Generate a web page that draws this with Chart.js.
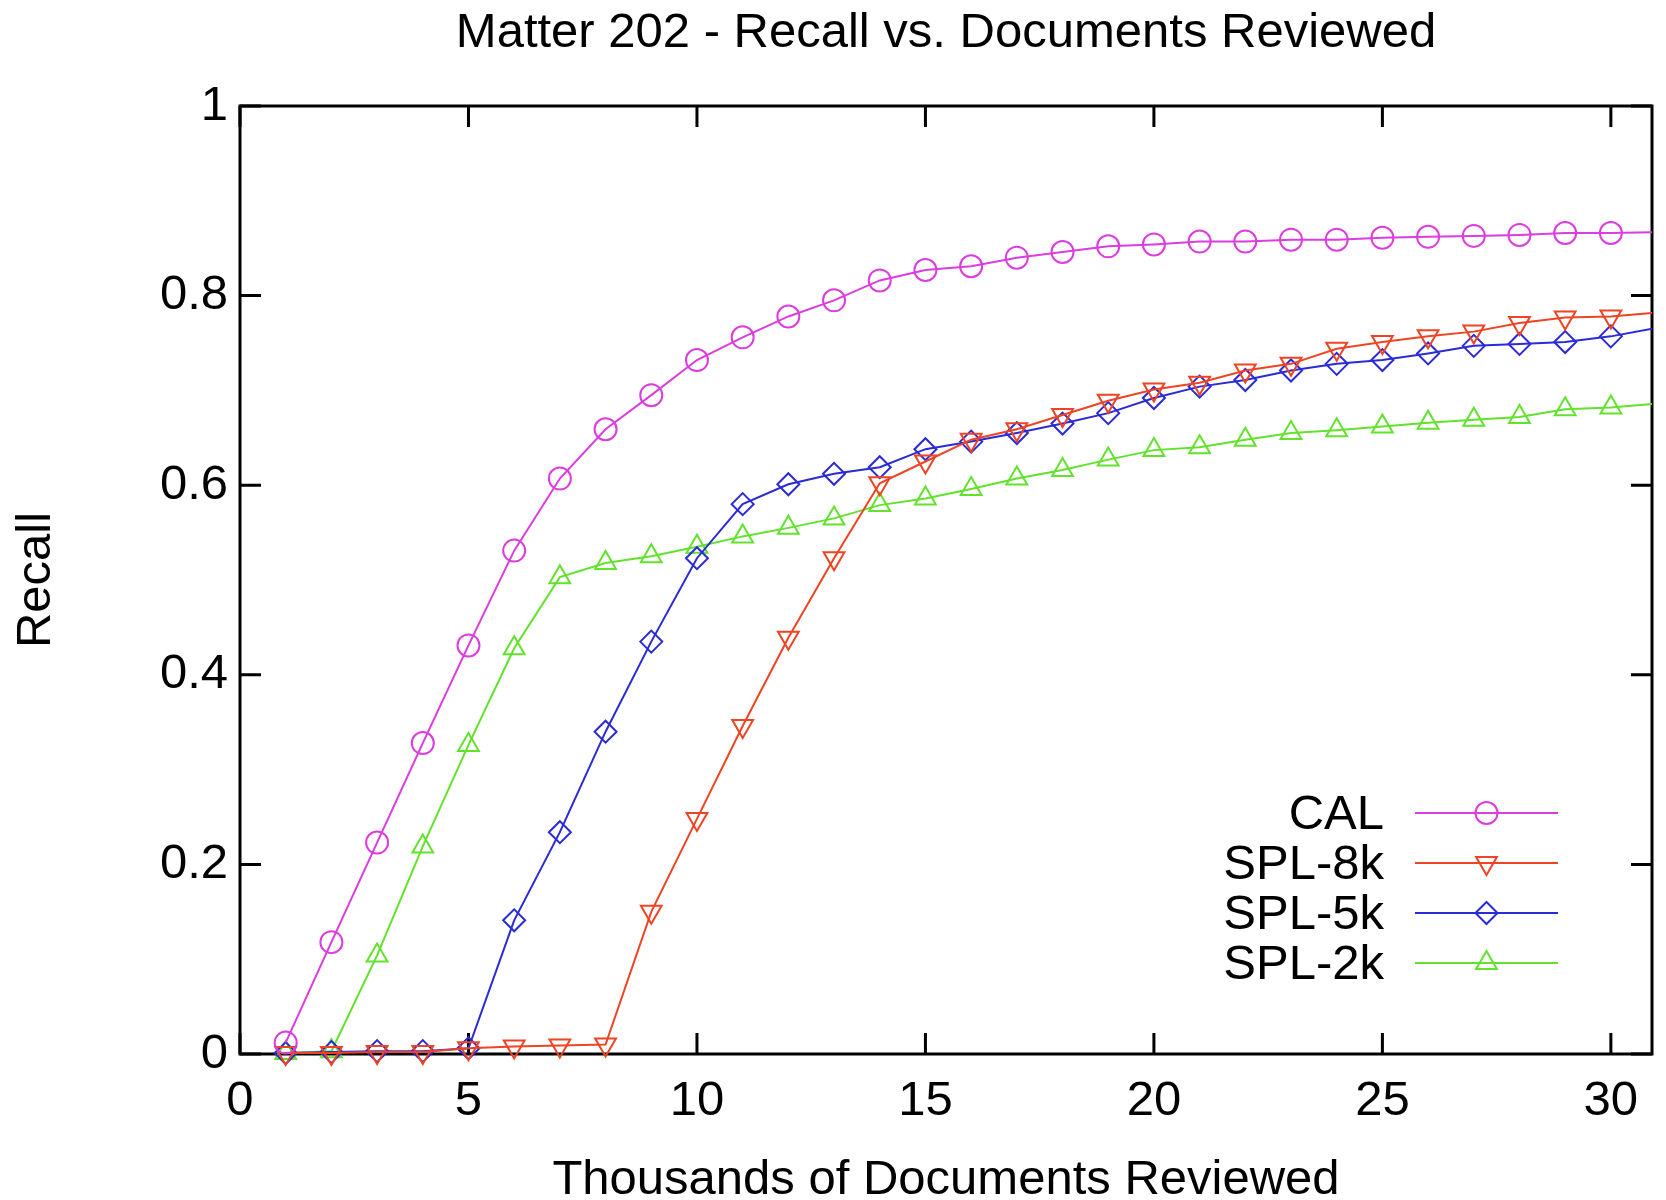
<!DOCTYPE html>
<html lang="en">

<head>
    <meta charset="UTF-8">
    <title>Matter 202 - Recall vs. Documents Reviewed</title>
    <script src="https://cdn.jsdelivr.net/npm/chart.js@4.3.3/dist/chart.umd.min.js"></script>
    <style>
        body { margin: 0; background: #fff; }
        #wrap { width: 1666px; height: 1200px; }
    </style>
</head>

<body>
    <div id="wrap">
        <canvas id="chart" width="1666" height="1200"></canvas>
    </div>

    <script>
        // thousands of documents reviewed (31 is past the right edge, only the line reaches it)
        const docs = [1, 2, 3, 4, 5, 6, 7, 8, 9, 10, 11, 12, 13, 14, 15, 16, 17, 18, 19, 20,
            21, 22, 23, 24, 25, 26, 27, 28, 29, 30, 31];

        const cal = [0.012, 0.118, 0.223, 0.328, 0.431, 0.531, 0.607, 0.659, 0.695, 0.732,
            0.756, 0.778, 0.795, 0.816, 0.827, 0.831, 0.840, 0.846, 0.852, 0.854,
            0.857, 0.857, 0.859, 0.859, 0.861, 0.862, 0.863, 0.864, 0.866, 0.866, 0.867];
        const spl8k = [0.001, 0.001, 0.002, 0.002, 0.006, 0.008, 0.009, 0.010, 0.150, 0.248,
            0.346, 0.439, 0.523, 0.602, 0.625, 0.648, 0.659, 0.674, 0.689, 0.701,
            0.708, 0.721, 0.728, 0.744, 0.751, 0.757, 0.762, 0.771, 0.777, 0.778, 0.782];
        const spl5k = [0.001, 0.002, 0.003, 0.003, 0.006, 0.141, 0.234, 0.340, 0.435, 0.523,
            0.580, 0.601, 0.612, 0.619, 0.638, 0.646, 0.655, 0.665, 0.676, 0.692,
            0.704, 0.711, 0.721, 0.728, 0.732, 0.739, 0.747, 0.749, 0.751, 0.757, 0.766];
        const spl2k = [0.001, 0.003, 0.104, 0.219, 0.326, 0.428, 0.503, 0.518, 0.525, 0.535,
            0.546, 0.555, 0.565, 0.579, 0.586, 0.596, 0.607, 0.616, 0.627, 0.637,
            0.640, 0.648, 0.655, 0.658, 0.662, 0.666, 0.669, 0.672, 0.680, 0.682, 0.686];

        const xTicks = [0, 5, 10, 15, 20, 25, 30];
        const yTicks = [0, 0.2, 0.4, 0.6, 0.8, 1];
        const yTickLabels = ['0', '0.2', '0.4', '0.6', '0.8', '1'];

        const chartTitle = 'Matter 202 - Recall vs. Documents Reviewed';
        const FONT = "'Liberation Sans', Arial, sans-serif";

        function series(label, values, color, style, radius, rotation) {
            return {
                label: label,
                data: values.map((v, i) => ({ x: docs[i], y: v })),
                borderColor: color,
                backgroundColor: 'rgba(0,0,0,0)',
                borderWidth: 2,
                pointStyle: style,
                pointRadius: ctx => ctx.dataIndex === docs.length - 1 ? 0 : radius,
                pointRotation: rotation,
                pointBorderWidth: 2,
                pointBorderColor: color,
                pointBackgroundColor: 'rgba(0,0,0,0)',
                legendRadius: radius,
                tension: 0,
                clip: { left: 30, top: 30, right: 0, bottom: 30 }
            };
        }

        // gnuplot style frame with inward ticks on all four sides, title centred over the plot
        const framePlugin = {
            id: 'frame',
            beforeDatasetsDraw(chart) {
                const { ctx, chartArea: a, scales } = chart;
                const len = 21;
                ctx.save();
                ctx.strokeStyle = '#000';
                ctx.lineWidth = 3;
                ctx.beginPath();
                xTicks.forEach(v => {
                    const px = scales.x.getPixelForValue(v);
                    ctx.moveTo(px, a.bottom); ctx.lineTo(px, a.bottom - len);
                    ctx.moveTo(px, a.top); ctx.lineTo(px, a.top + len);
                });
                yTicks.forEach(v => {
                    const py = scales.y.getPixelForValue(v);
                    ctx.moveTo(a.left, py); ctx.lineTo(a.left + len, py);
                    ctx.moveTo(a.right, py); ctx.lineTo(a.right - len, py);
                });
                ctx.stroke();
                ctx.strokeRect(a.left, a.top, a.right - a.left, a.bottom - a.top);

                ctx.fillStyle = '#000';
                ctx.font = '49px ' + FONT;
                ctx.textAlign = 'center';
                ctx.textBaseline = 'middle';
                ctx.fillText(chartTitle, (a.left + a.right) / 2, a.top - 73);
                ctx.restore();
            }
        };

        // key in the lower right of the plot: text, then a line sample with the marker
        const keyPlugin = {
            id: 'key',
            afterDatasetsDraw(chart) {
                const { ctx, chartArea: a } = chart;
                const textRight = a.right - 268;
                const lineStart = a.right - 237;
                const lineEnd = a.right - 94;
                const markX = (lineStart + lineEnd) / 2;
                const firstRow = a.bottom - 241;
                const rowGap = 50;
                ctx.save();
                ctx.font = '49px ' + FONT;
                ctx.textAlign = 'right';
                ctx.textBaseline = 'middle';
                chart.data.datasets.forEach((ds, i) => {
                    const y = firstRow + i * rowGap;
                    ctx.fillStyle = '#000';
                    ctx.fillText(ds.label, textRight, y + 2);
                    ctx.strokeStyle = ds.borderColor;
                    ctx.lineWidth = 2;
                    ctx.beginPath();
                    ctx.moveTo(lineStart, y);
                    ctx.lineTo(lineEnd, y);
                    ctx.stroke();
                    ctx.fillStyle = 'rgba(0,0,0,0)';
                    Chart.helpers.drawPoint(ctx, {
                        pointStyle: ds.pointStyle,
                        rotation: ds.pointRotation,
                        radius: ds.legendRadius,
                        borderWidth: 2
                    }, markX, y);
                });
                ctx.restore();
            }
        };

        const datasets = [
            series('CAL', cal, '#dc3ce0', 'circle', 11, 0),
            series('SPL-8k', spl8k, '#ee4424', 'triangle', 12, 180),
            series('SPL-5k', spl5k, '#2a2ad6', 'rectRot', 11, 0),
            series('SPL-2k', spl2k, '#62e22c', 'triangle', 12, 0)
        ];

        new Chart(document.getElementById('chart'), {
            type: 'line',
            data: { datasets: datasets },
            options: {
                responsive: false,
                animation: false,
                events: [],
                layout: { padding: { left: 0, right: 10, top: 106, bottom: 0 } },
                plugins: {
                    legend: { display: false },
                    tooltip: { enabled: false },
                    title: { display: false }
                },
                scales: {
                    x: {
                        type: 'linear',
                        min: 0,
                        max: 30.9,
                        afterBuildTicks: s => { s.ticks = xTicks.map(v => ({ value: v })); },
                        afterFit: s => { s.height = 146; },
                        grid: { display: false, drawTicks: false },
                        border: { display: false },
                        ticks: {
                            color: '#000',
                            padding: 18,
                            maxRotation: 0,
                            font: { family: FONT, size: 49, lineHeight: 1.2 },
                            callback: v => String(v)
                        },
                        title: {
                            display: true,
                            text: 'Thousands of Documents Reviewed',
                            color: '#000',
                            font: { family: FONT, size: 49, lineHeight: 0.8 },
                            padding: { top: 0, bottom: 0 }
                        }
                    },
                    y: {
                        min: 0,
                        max: 1,
                        afterBuildTicks: s => { s.ticks = yTicks.map(v => ({ value: v })); },
                        afterFit: s => { s.width = 240; },
                        grid: { display: false, drawTicks: false },
                        border: { display: false },
                        ticks: {
                            color: '#000',
                            padding: 12,
                            font: { family: FONT, size: 49, lineHeight: 1.2 },
                            callback: (v, i) => yTickLabels[i]
                        },
                        title: {
                            display: true,
                            text: 'Recall',
                            color: '#000',
                            font: { family: FONT, size: 49, lineHeight: 1 },
                            padding: { top: 12, bottom: 0 }
                        }
                    }
                }
            },
            plugins: [framePlugin, keyPlugin]
        });
    </script>

</body>

</html>
